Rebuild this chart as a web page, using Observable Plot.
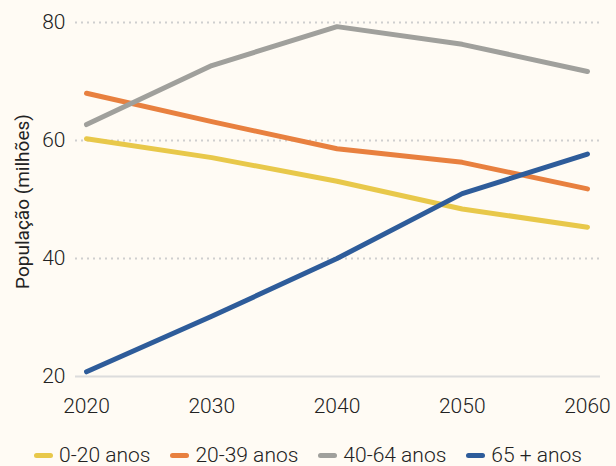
<!DOCTYPE html>
<html><head><meta charset="utf-8">
<script src="https://cdn.jsdelivr.net/npm/d3@7"></script>
<script src="https://cdn.jsdelivr.net/npm/@observablehq/plot@0.6"></script>
<style>
html,body{margin:0;padding:0;background:#fffbf4;}
body{width:616px;height:466px;overflow:hidden;font-family:Roboto,"Noto Sans",sans-serif;font-weight:300;color:#222;}
#legend{display:flex;justify-content:center;height:50px;align-items:center;font-size:21px;}
.item{display:flex;align-items:center;margin:0 10px;}
.sw{width:19px;height:5px;border-radius:3px;margin-right:6px;}
svg text{font-weight:300;}
svg g[aria-label="text"] text{font-weight:400;}
</style></head>
<body><div id="chart"></div><div id="legend"></div>
<script>
const years = [2020, 2030, 2040, 2050, 2060];
const seriesNames = ["0-20 anos", "20-39 anos", "40-64 anos", "65 + anos"];
const colors = ["#e8c84a", "#e8803f", "#a0a09c", "#2e5c9a"];
const v0_20 = [60.3, 57.1, 53.1, 48.4, 45.3];
const v20_39 = [68.0, 63.2, 58.6, 56.3, 51.8];
const v40_64 = [62.7, 72.7, 79.3, 76.3, 71.7];
const v65 = [20.8, 30.2, 40.0, 51.0, 57.7];
const yTicks = [20, 40, 60, 80];
const yLabel = "População (milhões)";

const allVals = [v0_20, v20_39, v40_64, v65];
const data = [];
seriesNames.forEach((s, i) => years.forEach((y, j) => data.push({series: s, year: y, value: allVals[i][j]})));

const chart = Plot.plot({
  width: 616, height: 430,
  marginLeft: 75, marginRight: 16, marginTop: 22, marginBottom: 54,
  style: {background: "transparent", fontFamily: "Roboto, 'Noto Sans', sans-serif", color: "#222"},
  x: {domain: [2019.12, 2061.04]},
  y: {domain: [20, 80]},
  color: {domain: seriesNames, range: colors},
  marks: [
    Plot.ruleY(yTicks.filter(d => d > 20), {stroke: "#cfcfcf", strokeWidth: 2, strokeDasharray: "2,4"}),
    Plot.ruleY([20], {stroke: "#dcdcdc", strokeWidth: 2}),
    Plot.axisX({ticks: years, tickFormat: d => String(d), tickSize: 0, tickPadding: 22, fontSize: 21, label: null}),
    Plot.axisY({ticks: yTicks, tickSize: 0, tickPadding: 10, fontSize: 21, label: null}),
    Plot.text([yLabel], {frameAnchor: "left", textAnchor: "middle", rotate: -90, dx: -53, dy: 2, fontSize: 19, fill: "#222"}),
    Plot.line(data, {x: "year", y: "value", z: "series", stroke: "series", strokeWidth: 5, strokeLinecap: "round", strokeLinejoin: "round"})
  ]
});
document.getElementById("chart").appendChild(chart);

const leg = document.getElementById("legend");
seriesNames.forEach((s, i) => {
  const it = document.createElement("div"); it.className = "item";
  const sw = document.createElement("div"); sw.className = "sw"; sw.style.background = colors[i];
  const tx = document.createElement("span"); tx.textContent = s;
  it.appendChild(sw); it.appendChild(tx); leg.appendChild(it);
});
</script></body></html>
